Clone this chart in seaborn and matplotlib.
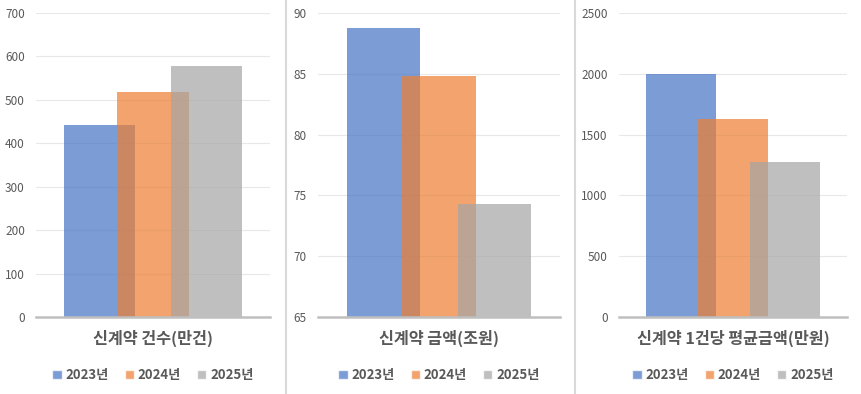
import matplotlib
matplotlib.use("Agg")
import matplotlib.pyplot as plt
import seaborn as sns
from matplotlib.patches import Patch
from matplotlib.lines import Line2D

# ---------- DATA ----------
years = ["2023년", "2024년", "2025년"]
count_vals = [441, 517, 579]          # 신계약 건수(만건)
amount_vals = [88.8, 84.8, 74.3]      # 신계약 금액(조원)
avg_vals = [2000, 1630, 1275]         # 신계약 1건당 평균금액(만원)
titles = ["신계약 건수(만건)", "신계약 금액(조원)", "신계약 1건당 평균금액(만원)"]
ylims = [(0, 700), (65, 90), (0, 2500)]
yticks = [list(range(0, 701, 100)), list(range(65, 91, 5)), list(range(0, 2501, 500))]
colors = ["#4472C4", "#ED7D31", "#A5A5A5"]

# ---------- STYLE ----------
sns.set_style("white")
plt.rcParams['font.family'] = ['Noto Sans CJK KR', 'DejaVu Sans']
W, H = 861, 394
fig = plt.figure(figsize=(W / 100, H / 100), dpi=100)

# axes boxes in pixels: left, right
boxes = [(36, 270), (318, 560), (619, 847)]
top_px, bot_px = 13, 317
text_col = "#595959"

for i, (vals, title, yl, yt, (l, r)) in enumerate(zip(
        [count_vals, amount_vals, avg_vals], titles, ylims, yticks, boxes)):
    ax = fig.add_axes([l / W, (H - bot_px) / H, (r - l) / W, (bot_px - top_px) / H])
    sns.barplot(x=years, y=vals, hue=years, palette=colors, width=1.33,
                alpha=0.7, dodge=False, legend=False, saturation=1,
                edgecolor="none", linewidth=0, ax=ax)
    ax.set_xlim(-1.19, 3.19)
    ax.set_ylim(*yl)
    ax.set_yticks(yt)
    ax.set_xticks([])
    ax.set_xlabel("")
    ax.set_ylabel("")
    ax.grid(axis="y", color="#e8e8e8", lw=0.8)
    ax.set_axisbelow(True)
    for s in ["top", "left", "right"]:
        ax.spines[s].set_visible(False)
    ax.spines["bottom"].set_color("#bfbfbf")
    ax.spines["bottom"].set_linewidth(1.8)
    ax.tick_params(axis="y", length=0, pad=8, labelsize=8.5, labelcolor=text_col)

    ax.text(0.5, -0.069, title, transform=ax.transAxes, ha="center", va="center",
            fontsize=11.7, fontweight="bold", color=text_col)

    handles = [Patch(facecolor=c, alpha=0.7, label=y) for c, y in zip(colors, years)]
    ax.legend(handles=handles, loc="center", bbox_to_anchor=(0.5, -0.19), ncol=3,
              frameon=False, handlelength=0.7, handleheight=0.7, handletextpad=0.3,
              columnspacing=1.2, prop={"size": 9.5, "weight": "bold"},
              labelcolor=text_col)

# panel separators
for xp in [286, 575]:
    fig.add_artist(Line2D([xp / W, xp / W], [0, 1], color="#d9d9d9", lw=1.5))

fig.savefig("out.png", dpi=100)
